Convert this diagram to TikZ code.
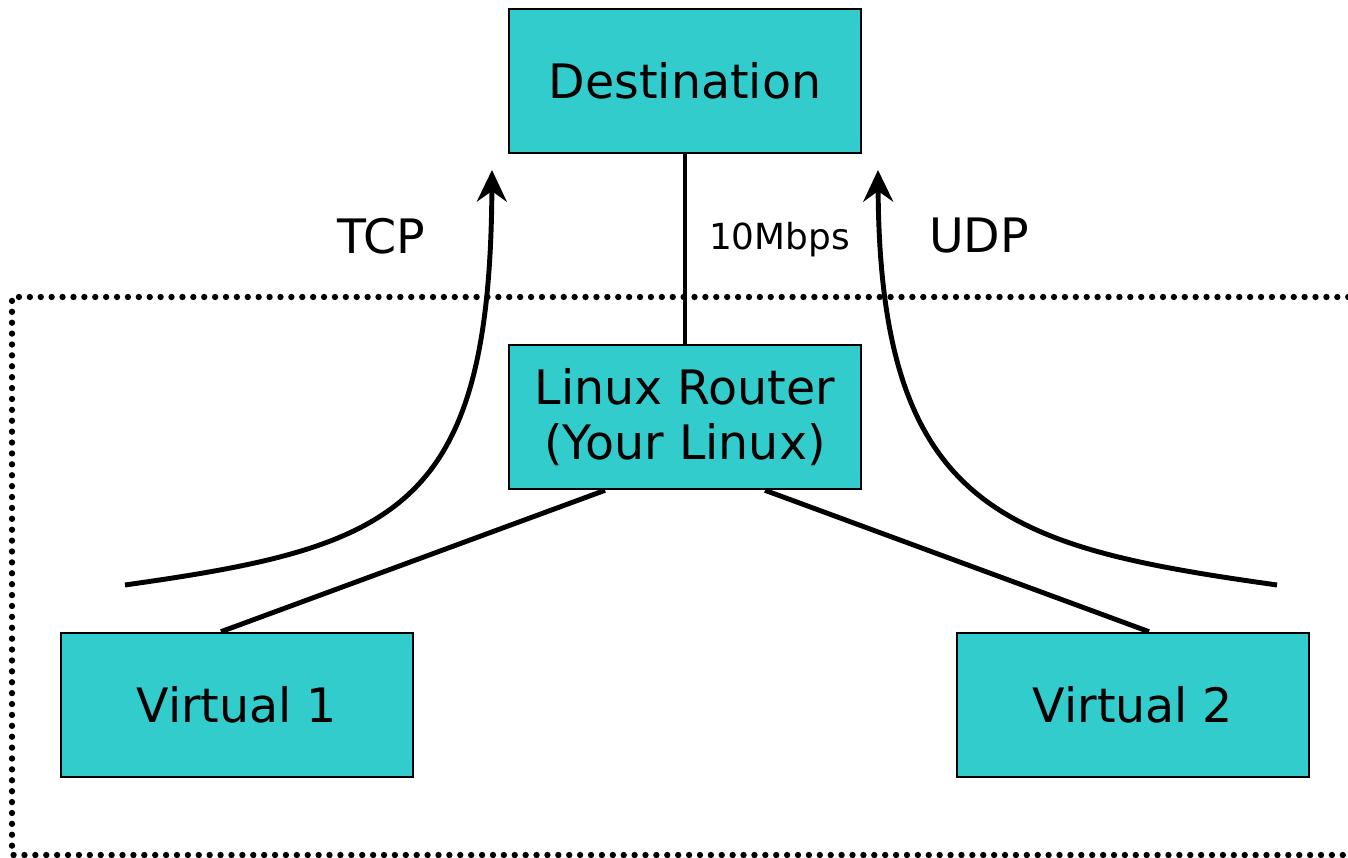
\documentclass[tikz,border=0pt]{standalone}
\usepackage{fontspec}
\setmainfont{DejaVu Sans}
\usetikzlibrary{arrows.meta}
\definecolor{boxcyan}{RGB}{51,204,204}
\begin{document}
\begin{tikzpicture}[
    hostbox/.style={draw,line width=0.75pt,fill=boxcyan,minimum width=3.52cm,minimum height=1.44cm,align=center,font=\fontsize{13.5}{15.5}\selectfont},
    wire/.style={line width=1.4pt},
    flow/.style={line width=1.4pt,-{Stealth[length=9pt,width=8.5pt,inset=3pt]}},
    lbl/.style={font=\fontsize{13.5}{15.5}\selectfont}]
    \useasboundingbox (0,0) rectangle (13.48,8.57);
    \draw[line width=1.8pt,line cap=round,dash pattern=on 0pt off 3.1pt] (13.7,5.60) -- (0.12,5.60) -- (0.12,0.02) -- (13.7,0.02);
    \node[hostbox] (dst) at (6.85,7.76) {Destination};
    \node[hostbox] (rt) at (6.85,4.40) {Linux Router\\(Your Linux)};
    \node[hostbox] (v1) at (2.37,1.52) {Virtual 1};
    \node[hostbox] (v2) at (11.33,1.52) {Virtual 2};
    \draw[wire] (dst) -- (rt) node[midway,right=0.1cm,yshift=0.09cm,font=\fontsize{10.2}{12}\selectfont] (bw) {10Mbps};
    \draw[wire] ([xshift=-0.8cm]rt.south) -- ([xshift=-0.16cm]v1.north);
    \draw[wire] ([xshift=0.8cm]rt.south) -- ([xshift=0.16cm]v2.north);
    \coordinate (tcpa) at (1.25,2.72);
    \coordinate (tcpb) at (4.92,6.87);
    \coordinate (udpa) at (12.77,2.72);
    \coordinate (udpb) at (8.78,6.87);
    \draw[flow] (tcpa) .. controls (3.95,3.10) and (4.90,3.45) .. (tcpb);
    \draw[flow] (udpa) .. controls (10.07,3.10) and (8.80,3.45) .. (udpb);
    \node[lbl] (tcp) at (3.81,6.21) {TCP};
    \node[lbl] (udp) at (9.79,6.21) {UDP};
\end{tikzpicture}
\end{document}
